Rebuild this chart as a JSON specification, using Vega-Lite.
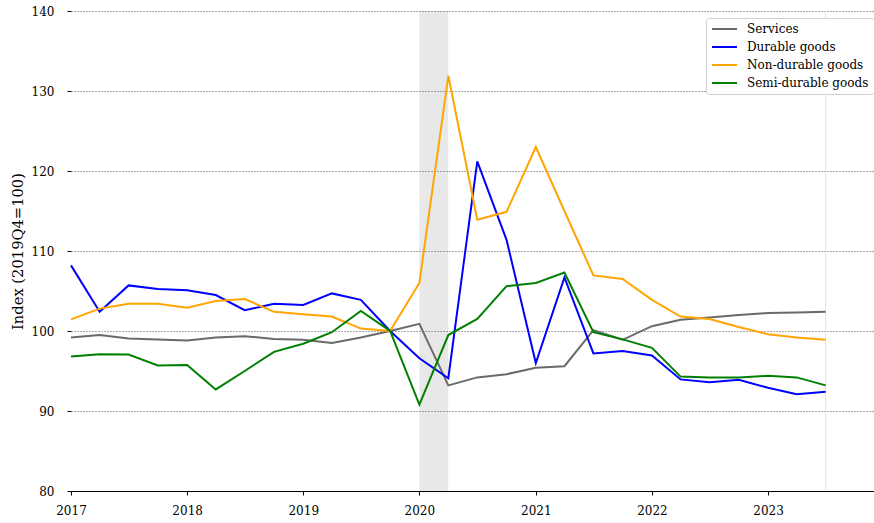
{
  "$schema": "https://vega.github.io/schema/vega-lite/v6.json",
  "autosize": "none",
  "width": 803,
  "height": 480,
  "padding": {"left": 71, "top": 11, "right": 0, "bottom": 32},
  "background": "white",
  "config": {
    "font": "DejaVu Serif",
    "view": {"stroke": null},
    "axis": {"labelFont": "DejaVu Serif", "titleFont": "DejaVu Serif", "labelColor": "black", "titleColor": "black", "labelFontSize": 12}
  },
  "layer": [
    {
      "data": {"values": [{"start": "2020-01-01", "end": "2020-04-01"}]},
      "mark": {"type": "rect", "fill": "black", "opacity": 0.09},
      "encoding": {
        "x": {"field": "start", "type": "temporal"},
        "x2": {"field": "end"}
      }
    },
    {
      "data": {"values": [{"d": "2023-07-01"}]},
      "mark": {"type": "rule", "color": "#e4e4e4", "strokeWidth": 1},
      "encoding": {"x": {"field": "d", "type": "temporal"}}
    },
    {
      "data": {"values": [
        {"date": "2017-01-01", "Services": 99.2, "Durable goods": 108.2, "Non-durable goods": 101.45, "Semi-durable goods": 96.8},
        {"date": "2017-04-01", "Services": 99.5, "Durable goods": 102.4, "Non-durable goods": 102.8, "Semi-durable goods": 97.1},
        {"date": "2017-07-01", "Services": 99.05, "Durable goods": 105.7, "Non-durable goods": 103.4, "Semi-durable goods": 97.05},
        {"date": "2017-10-01", "Services": 98.95, "Durable goods": 105.25, "Non-durable goods": 103.4, "Semi-durable goods": 95.7},
        {"date": "2018-01-01", "Services": 98.8, "Durable goods": 105.1, "Non-durable goods": 102.9, "Semi-durable goods": 95.75},
        {"date": "2018-04-01", "Services": 99.2, "Durable goods": 104.5, "Non-durable goods": 103.75, "Semi-durable goods": 92.7},
        {"date": "2018-07-01", "Services": 99.35, "Durable goods": 102.6, "Non-durable goods": 104.0, "Semi-durable goods": 95.0},
        {"date": "2018-10-01", "Services": 99.0, "Durable goods": 103.4, "Non-durable goods": 102.4, "Semi-durable goods": 97.4},
        {"date": "2019-01-01", "Services": 98.9, "Durable goods": 103.25, "Non-durable goods": 102.1, "Semi-durable goods": 98.4},
        {"date": "2019-04-01", "Services": 98.5, "Durable goods": 104.7, "Non-durable goods": 101.8, "Semi-durable goods": 99.85},
        {"date": "2019-07-01", "Services": 99.2, "Durable goods": 103.9, "Non-durable goods": 100.3, "Semi-durable goods": 102.5},
        {"date": "2019-10-01", "Services": 100.0, "Durable goods": 100.0, "Non-durable goods": 100.0, "Semi-durable goods": 100.0},
        {"date": "2020-01-01", "Services": 100.9, "Durable goods": 96.6, "Non-durable goods": 106.0, "Semi-durable goods": 90.8},
        {"date": "2020-04-01", "Services": 93.2, "Durable goods": 94.1, "Non-durable goods": 131.9, "Semi-durable goods": 99.5},
        {"date": "2020-07-01", "Services": 94.2, "Durable goods": 121.2, "Non-durable goods": 113.9, "Semi-durable goods": 101.5},
        {"date": "2020-10-01", "Services": 94.6, "Durable goods": 111.4, "Non-durable goods": 114.9, "Semi-durable goods": 105.6},
        {"date": "2021-01-01", "Services": 95.4, "Durable goods": 96.0, "Non-durable goods": 123.0, "Semi-durable goods": 106.0},
        {"date": "2021-04-01", "Services": 95.6, "Durable goods": 106.7, "Non-durable goods": 115.0, "Semi-durable goods": 107.3},
        {"date": "2021-07-01", "Services": 100.1, "Durable goods": 97.2, "Non-durable goods": 106.95, "Semi-durable goods": 99.85},
        {"date": "2021-10-01", "Services": 98.9, "Durable goods": 97.5, "Non-durable goods": 106.5, "Semi-durable goods": 98.95},
        {"date": "2022-01-01", "Services": 100.6, "Durable goods": 96.95, "Non-durable goods": 103.9, "Semi-durable goods": 97.9},
        {"date": "2022-04-01", "Services": 101.4, "Durable goods": 93.95, "Non-durable goods": 101.8, "Semi-durable goods": 94.3},
        {"date": "2022-07-01", "Services": 101.7, "Durable goods": 93.6, "Non-durable goods": 101.5, "Semi-durable goods": 94.2},
        {"date": "2022-10-01", "Services": 102.0, "Durable goods": 93.9, "Non-durable goods": 100.5, "Semi-durable goods": 94.2},
        {"date": "2023-01-01", "Services": 102.25, "Durable goods": 92.9, "Non-durable goods": 99.6, "Semi-durable goods": 94.4},
        {"date": "2023-04-01", "Services": 102.3, "Durable goods": 92.1, "Non-durable goods": 99.2, "Semi-durable goods": 94.2},
        {"date": "2023-07-01", "Services": 102.4, "Durable goods": 92.4, "Non-durable goods": 98.9, "Semi-durable goods": 93.2}
      ]},
      "transform": [
        {"fold": ["Services", "Durable goods", "Non-durable goods", "Semi-durable goods"], "as": ["series", "value"]}
      ],
      "mark": {"type": "line", "strokeWidth": 2},
      "encoding": {
        "x": {
          "field": "date", "type": "temporal",
          "scale": {"domain": ["2017-01-01", "2023-11-30"]},
          "axis": {
            "title": null, "format": "%Y", "tickCount": "year",
            "grid": false, "domain": true, "domainColor": "black", "domainWidth": 1,
            "ticks": true, "tickColor": "black", "tickSize": 4, "labelPadding": 10,
            "labelFontSize": 12, "labelFlush": false
          }
        },
        "y": {
          "field": "value", "type": "quantitative",
          "scale": {"domain": [80, 140], "nice": false, "zero": false},
          "axis": {
            "title": "Index (2019Q4=100)", "titleFontSize": 14.7, "titleFontWeight": "normal", "titlePadding": 6,
            "values": [80, 90, 100, 110, 120, 130, 140],
            "grid": true, "gridDash": [1, 2], "gridColor": "#555", "gridWidth": 1,
            "domain": false, "ticks": true, "tickColor": "black", "tickSize": 4, "labelPadding": 13,
            "labelFontSize": 12
          }
        },
        "color": {
          "field": "series", "type": "nominal",
          "scale": {
            "domain": ["Services", "Durable goods", "Non-durable goods", "Semi-durable goods"],
            "range": ["#6a6a6a", "#0000ff", "#ffa500", "#008000"]
          },
          "legend": {
            "title": null, "orient": "none", "legendX": 635, "legendY": 7,
            "symbolType": "M-1,0H4", "symbolSize": 100, "symbolStrokeWidth": 2,
            "labelFont": "DejaVu Serif", "labelFontSize": 12, "labelColor": "black", "labelOffset": 24,
            "rowPadding": 6, "padding": 5,
            "strokeColor": "#d0d0d0", "fillColor": "white", "cornerRadius": 3
          }
        },
        "order": {"field": "date", "type": "temporal"}
      }
    }
  ]
}
